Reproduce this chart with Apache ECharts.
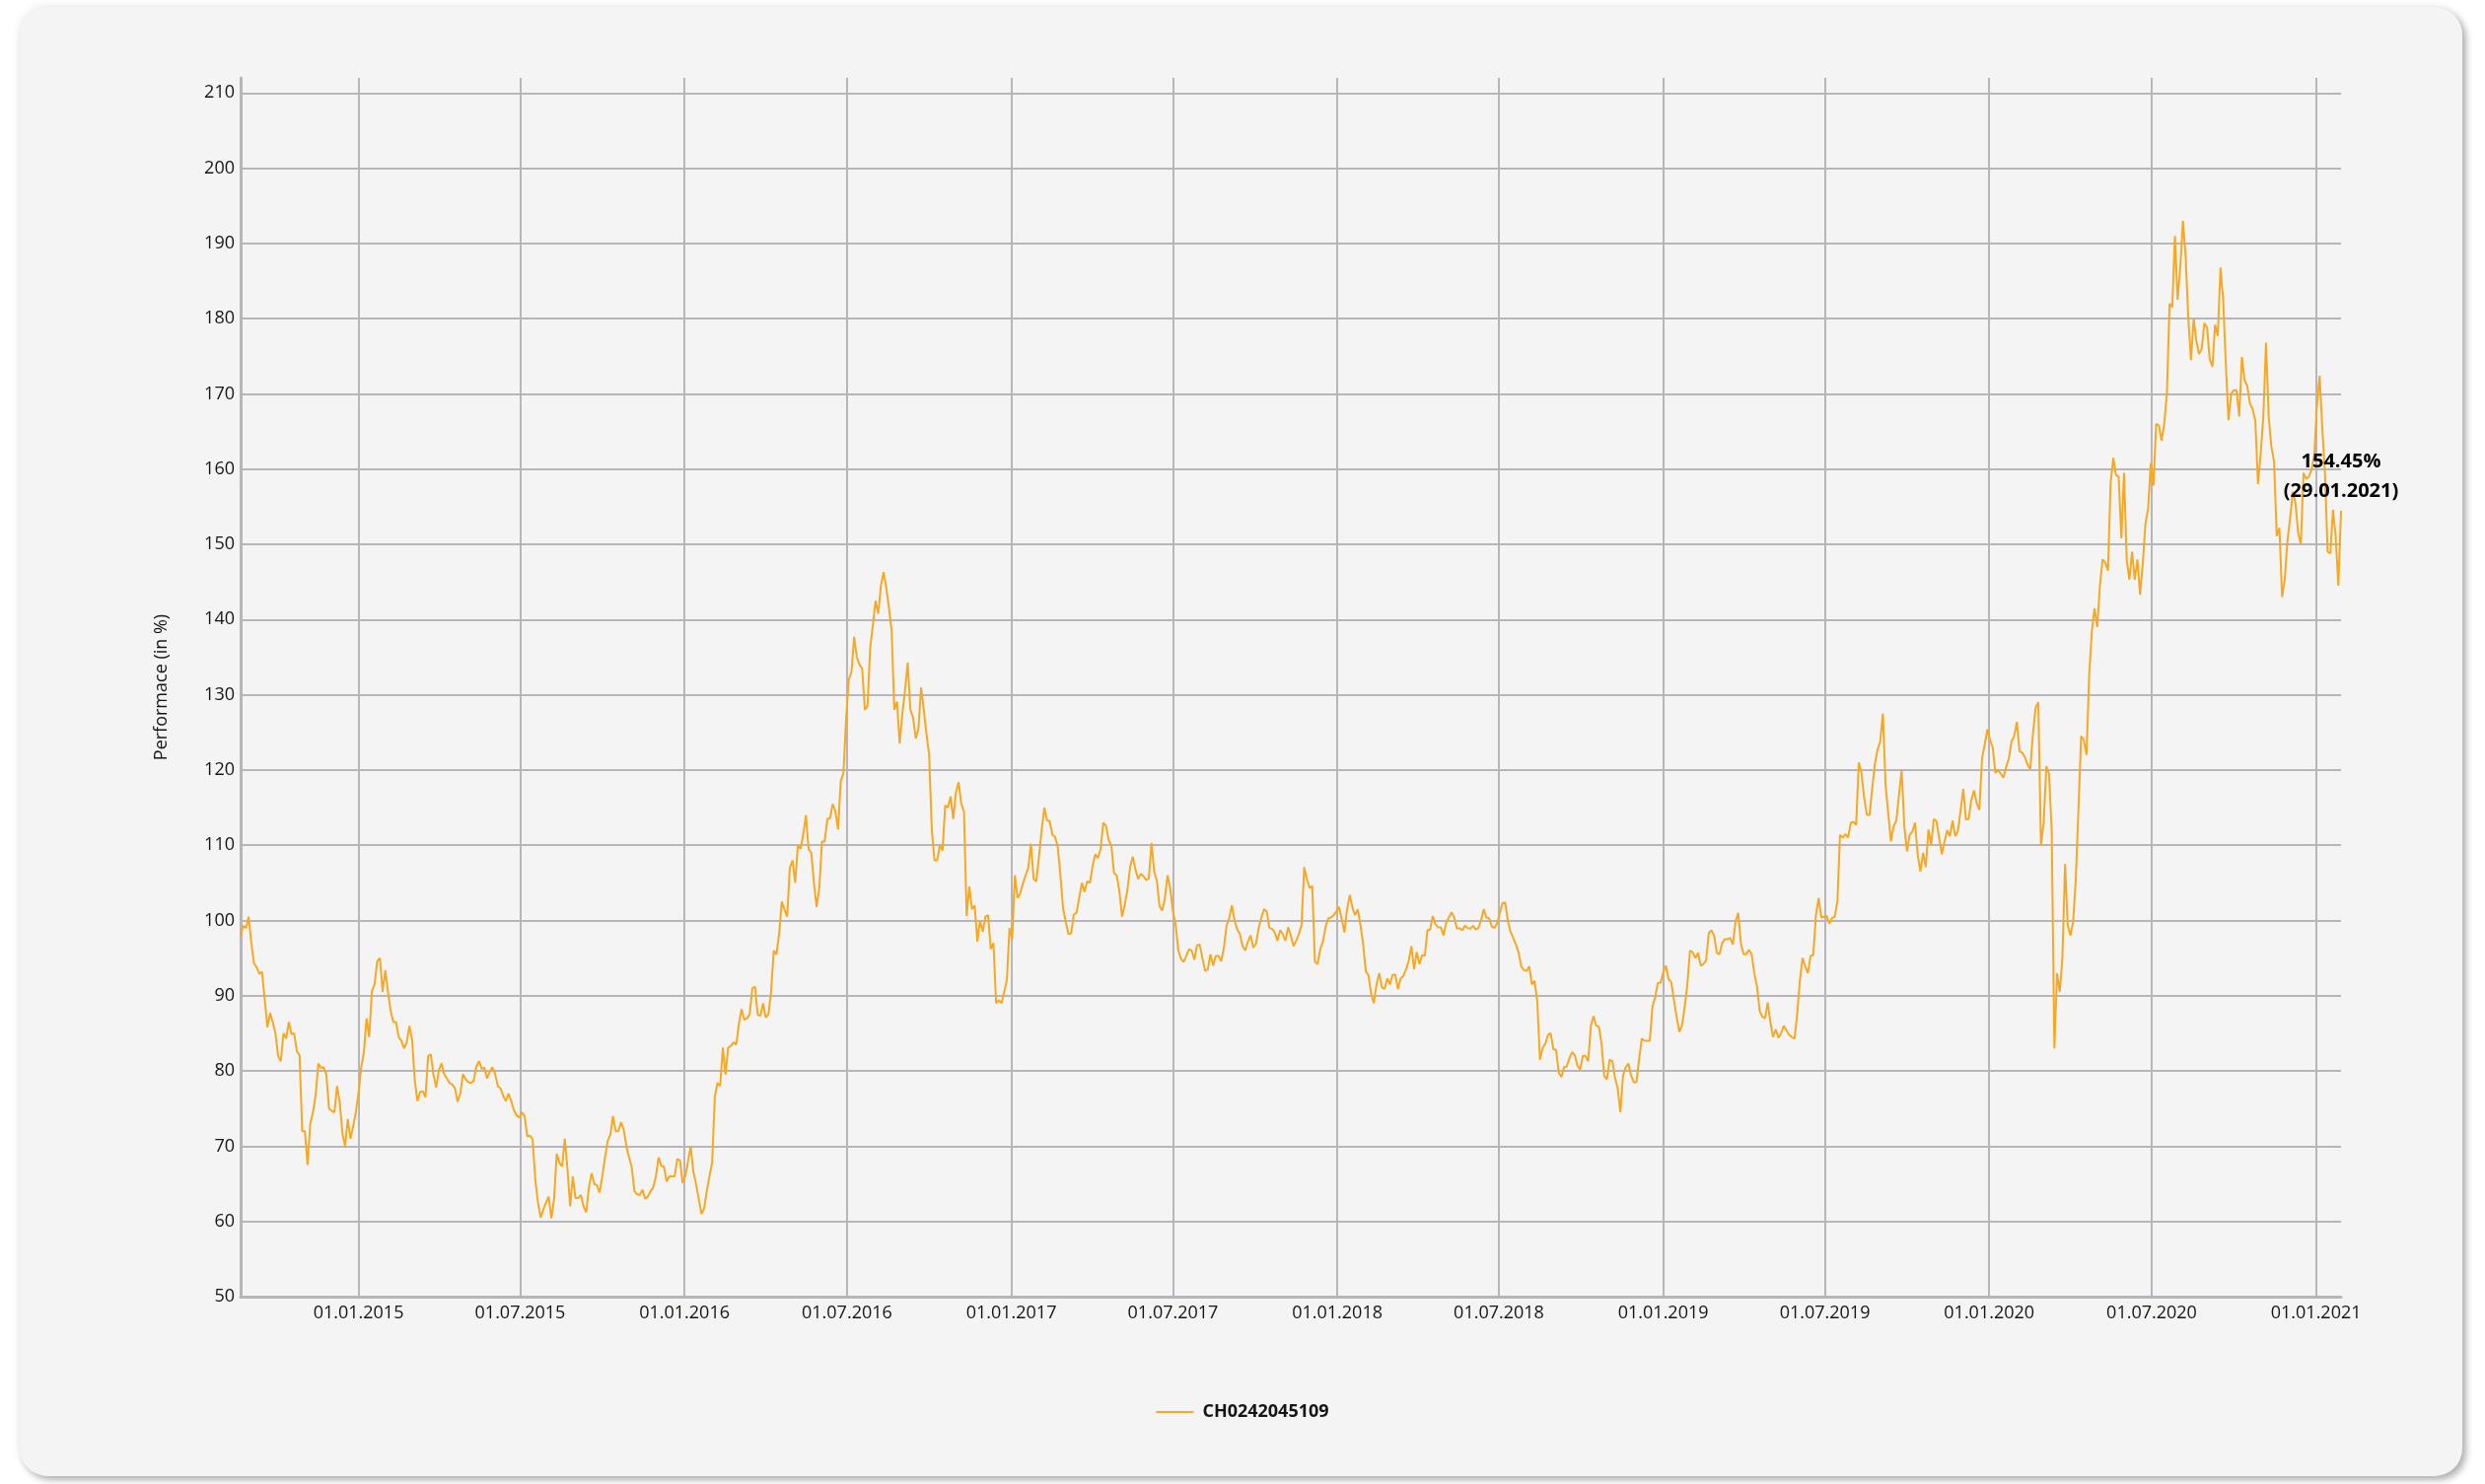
<!DOCTYPE html>
<html>
<head>
<meta charset="utf-8">
<script src="https://cdn.jsdelivr.net/npm/echarts@6/dist/echarts.min.js"></script>
<style>
html,body{margin:0;padding:0;background:#ffffff;width:2520px;height:1505px;overflow:hidden;}
#card{position:absolute;left:20px;top:7px;width:2477px;height:1490px;background:#f4f4f4;border-radius:28px;
  box-shadow:4px 4px 7px rgba(0,0,0,0.30),-2px -2px 10px rgba(0,0,0,0.06);}
#chart{position:absolute;left:0;top:0;width:2520px;height:1505px;}
</style>
</head>
<body>
<div id="card"></div>
<div id="chart"></div>
<script>
// ---------- data ----------
const seriesName = 'CH0242045109';
const yAxisTitle = 'Performace (in %)';
const firstDate = [2014, 8, 22];   // first value date (year, month, day)
const stepDays = 3;                // spacing of the values below, in calendar days
const xTickLabels = ['01.01.2015','01.07.2015','01.01.2016','01.07.2016','01.01.2017','01.07.2017',
  '01.01.2018','01.07.2018','01.01.2019','01.07.2019','01.01.2020','01.07.2020','01.01.2021'];
const yMin = 50, yMax = 210, yStep = 10;

// Aug 2014 - Jul 2015
const perf2014 = [98.0,99.3,99.0,100.5,97.0,94.3,93.8,92.9,93.2,89.5,
 85.8,87.7,86.5,85.0,82.0,81.3,85.0,84.3,86.5,84.9,
 85.0,82.6,82.1,72.0,72.0,67.5,73.0,74.5,76.8,81.0,
 80.4,80.5,79.5,75.0,74.7,74.5,78.0,75.8,71.7,70.0,
 73.6,71.0,72.6,74.5,77.0,80.5,82.4,87.0,84.5,90.6,
 91.5,94.6,95.0,90.5,93.4,90.5,88.0,86.5,86.5,84.5,
 84.0,83.0,83.8,86.0,84.2,78.8,76.0,77.2,77.3,76.5,
 82.0,82.2,79.5,77.8,80.1,81.0,79.6,79.0,78.4,78.2,
 77.7,75.9,77.0,79.6,78.9,78.5,78.4,78.7,80.6,81.3,
 80.3,80.4,79.0,79.9,80.5,79.6,78.0,77.7,76.7,76.0,
 77.0,76.0,74.8,74.1,73.8,74.5,74.0,71.3,71.4];
// Jul 2015 - Jul 2016
const perf2015 = [70.9,65.5,62.5,60.5,61.6,62.5,63.3,60.4,63.0,69.0,
 67.8,67.3,71.0,67.0,62.0,66.0,63.1,63.1,63.5,62.0,
 61.2,64.5,66.4,65.0,64.8,63.8,66.0,68.5,70.7,71.5,
 74.0,72.0,72.0,73.2,72.2,70.0,68.5,67.2,64.0,63.6,
 63.5,64.2,63.0,63.3,64.0,64.5,66.0,68.5,67.4,67.3,
 65.3,66.0,66.0,66.0,68.3,68.1,65.1,66.0,68.0,70.0,
 66.6,65.0,63.0,61.0,61.7,64.0,66.0,67.8,76.6,78.4,
 78.0,83.1,79.5,83.1,83.3,83.8,83.5,86.3,88.2,86.8,
 87.0,87.5,91.0,91.2,87.5,87.3,89.0,87.1,87.5,90.5,
 96.0,95.5,98.2,102.5,101.5,100.5,107.0,108.0,105.0,110.0,
 109.5,111.4,114.0,109.5,109.0,105.0,101.8,104.3,110.5,110.5,
 113.5,113.6,115.5,114.5,112.1,118.5,119.6];
// Jul 2016 - Jul 2017
const perf2016 = [126.8,132.0,133.0,137.7,135.0,134.0,133.5,128.0,128.5,136.3,
 139.3,142.5,140.8,144.5,146.3,144.2,141.5,138.5,128.0,129.1,
 123.5,127.5,130.6,134.3,128.0,127.0,124.2,125.5,131.0,128.0,
 124.8,122.0,112.0,108.0,108.0,110.0,109.3,115.3,115.0,116.5,
 113.5,117.0,118.4,115.5,114.5,100.6,104.5,101.5,102.0,97.2,
 100.0,98.5,100.5,100.7,96.2,97.0,89.0,89.4,89.0,90.5,
 92.0,99.0,97.5,106.0,103.0,103.6,104.9,106.0,107.0,110.2,
 105.5,105.2,108.5,112.0,115.0,113.3,113.2,111.4,111.1,109.8,
 106.0,101.6,99.8,98.2,98.3,100.8,101.0,103.0,105.0,103.8,
 105.2,105.0,107.2,108.8,108.3,109.5,113.0,112.6,110.7,110.0,
 106.3,106.0,103.9,100.5,102.1,104.0,107.1,108.5,106.8,105.5,
 106.2,105.9,105.4,105.6,110.3,106.5,105.3,101.9,101.3,103.0,
 106.0,104.2,101.2,99.5,96.0,94.9];
// Jul 2017 - Jul 2018
const perf2017 = [94.5,95.3,96.2,96.0,94.8,96.7,96.8,95.0,93.3,93.5,
 95.5,94.0,95.3,95.3,94.6,96.3,99.3,100.3,102.0,100.0,
 98.8,98.2,96.6,96.0,97.2,98.0,96.4,96.9,99.0,100.4,
 101.5,101.2,99.0,98.9,98.4,97.3,98.7,98.2,97.3,99.1,
 98.0,96.6,97.3,98.2,99.4,107.1,105.5,104.3,104.6,94.5,
 94.2,96.2,97.2,99.2,100.3,100.4,100.7,101.2,101.8,100.2,
 98.4,101.5,103.4,101.7,100.7,101.5,99.4,96.8,93.2,92.7,
 90.2,89.0,91.5,93.0,91.1,90.9,92.3,91.5,92.8,92.8,
 90.9,92.3,92.6,93.5,94.6,96.6,93.5,95.8,94.2,95.4,
 95.3,98.7,98.8,100.6,99.5,99.1,99.1,98.0,99.7,100.4,
 101.1,100.4,98.9,99.0,98.7,99.3,99.0,98.9,99.3,98.8,
 99.0,100.0,101.5,100.4,100.3,99.2,99.0,99.6,101.0];
// Jul 2018 - Jul 2019
const perf2018 = [102.3,102.4,100.0,98.5,97.7,96.8,95.8,93.9,93.4,93.3,
 93.9,91.5,92.0,89.2,81.5,83.1,83.6,84.8,85.0,82.9,
 82.8,79.8,79.2,80.5,80.6,81.7,82.5,82.1,80.7,80.2,
 82.0,82.0,81.3,86.0,87.3,86.0,85.9,83.5,79.3,78.9,
 81.5,81.3,79.1,77.7,74.5,79.4,80.5,81.0,79.4,78.5,
 78.5,81.6,84.3,84.0,84.0,84.0,88.6,89.8,91.7,91.7,
 93.1,94.0,92.2,91.8,89.4,87.2,85.2,86.0,88.5,91.5,
 96.0,95.8,95.0,95.7,94.0,94.2,94.7,98.3,98.7,98.0,
 95.7,95.5,97.0,97.5,97.5,97.7,96.8,99.9,101.0,97.0,
 95.5,95.5,96.1,95.5,93.0,91.2,88.0,87.2,87.0,89.1,
 86.5,84.5,85.5,84.4,85.0,86.0,85.4,84.8,84.5,84.3,
 87.5,92.0,95.0,93.9,93.0,95.3,95.4,100.7,103.0,100.4,
 100.5,100.6,99.6];
// Jul 2019 - Dec 2019
const perf2019 = [100.3,100.5,102.5,111.4,111.0,111.5,111.0,113.0,113.1,112.7,
 121.0,119.6,116.3,114.1,114.0,117.5,120.8,122.7,123.8,127.5,
 118.0,114.2,110.5,112.5,113.3,116.7,120.0,112.5,109.2,111.4,
 111.8,113.0,108.7,106.5,109.0,107.1,112.1,110.0,113.5,113.2,
 111.0,108.8,110.5,112.0,111.2,113.3,111.2,111.9,114.6,117.5,
 113.4,113.5,116.0,117.3,115.6,114.7,121.5,123.4];
// Dec 2019 - Jun 2020
const perf2020a = [125.4,124.0,123.0,119.6,120.0,119.5,119.0,120.4,121.5,123.8,
 124.5,126.4,122.5,122.3,121.7,120.7,120.1,124.8,128.3,129.0,
 110.0,113.0,120.5,119.5,112.0,83.0,93.0,90.5,95.0,107.5,
 99.3,98.0,99.8,105.5,114.9,124.5,124.0,122.0,132.7,138.5,
 141.5,139.0,144.5,148.0,147.6,146.5,158.2,161.5,159.2,159.0,
 150.8,159.5,148.0,145.3,149.0,145.3,148.0,143.3,147.5,152.7,
 154.8,160.8];
// Jul 2020 - Jan 2021
const perf2020b = [157.8,166.0,165.8,163.8,166.0,170.0,182.0,181.5,191.0,182.5,
 186.9,193.0,188.3,180.0,174.5,180.0,177.0,175.3,176.0,179.4,
 178.8,174.6,173.6,179.2,177.7,186.8,182.6,174.0,166.5,170.0,
 170.5,170.5,167.0,174.9,171.8,171.1,168.7,168.0,166.5,158.0,
 162.0,167.0,176.8,167.0,163.0,161.0,151.1,152.2,143.0,145.4,
 150.5,153.5,157.0,155.5,151.5,150.0,159.5,158.7,159.0,159.9,
 161.8,168.5,172.4,165.5,159.5,149.0,148.8,154.6,151.0,144.5,
 154.45];

// ---------- build ----------
const allValues = [].concat(perf2014, perf2015, perf2016, perf2017, perf2018, perf2019, perf2020a, perf2020b);
const data = allValues.map((v, i) => [new Date(firstDate[0], firstDate[1] - 1, firstDate[2] + i * stepDays).getTime(), v]);
const lastPoint = data[data.length - 1];

function parseDMY(s) { const p = s.split('.'); return new Date(+p[2], +p[1] - 1, +p[0]).getTime(); }
function fmtDate(t) {
  const d = new Date(t);
  return String(d.getDate()).padStart(2, '0') + '.' + String(d.getMonth() + 1).padStart(2, '0') + '.' + d.getFullYear();
}
const xTicks = xTickLabels.map(parseDMY);

const FONT = 'Open Sans';
const GRID_COLOR = '#b6b6ba';
const TEXT_COLOR = '#151515';

const chart = echarts.init(document.getElementById('chart'), null, { renderer: 'canvas' });
chart.setOption({
  backgroundColor: 'transparent',
  animation: false,
  textStyle: { fontFamily: FONT },
  grid: { left: 244, right: 146, top: 79, bottom: 190, containLabel: false },
  legend: {
    data: [seriesName],
    left: 'center',
    top: 1418,
    icon: 'rect',
    itemWidth: 38,
    itemHeight: 2,
    textStyle: { fontFamily: FONT, fontSize: 18, fontWeight: 'bold', color: TEXT_COLOR, padding: [0, 0, 0, 4] }
  },
  xAxis: {
    type: 'value',
    min: data[0][0],
    max: lastPoint[0],
    axisLine: { show: true, lineStyle: { color: GRID_COLOR, width: 3 } },
    axisTick: { show: false, customValues: xTicks },
    axisLabel: {
      customValues: xTicks,
      formatter: (v) => fmtDate(v),
      fontFamily: FONT, fontSize: 18, color: TEXT_COLOR, margin: 8, hideOverlap: false
    },
    splitLine: { show: true, lineStyle: { color: GRID_COLOR, width: 2 } }
  },
  yAxis: {
    type: 'value',
    min: yMin,
    max: yMax + 2,
    interval: yStep,
    name: yAxisTitle,
    nameLocation: 'middle',
    nameGap: 71,
    nameTextStyle: { fontFamily: FONT, fontSize: 18, color: TEXT_COLOR },
    axisLine: { show: true, lineStyle: { color: GRID_COLOR, width: 3 } },
    axisTick: { show: false },
    axisLabel: { fontFamily: FONT, fontSize: 18, color: TEXT_COLOR, margin: 6, showMaxLabel: false },
    splitLine: { show: true, showMaxLine: false, lineStyle: { color: GRID_COLOR, width: 2 } }
  },
  series: [{
    name: seriesName,
    type: 'line',
    data: data,
    showSymbol: false,
    symbol: 'none',
    lineStyle: { color: '#f7a823', width: 2 },
    itemStyle: { color: '#f7a823' },
    markPoint: {
      symbol: 'circle',
      symbolSize: 2,
      itemStyle: { color: 'rgba(0,0,0,0)' },
      label: {
        show: true,
        position: 'top',
        distance: 4,
        formatter: lastPoint[1].toFixed(2) + '%\n(' + fmtDate(lastPoint[0]) + ')',
        fontFamily: FONT,
        fontSize: 20,
        lineHeight: 30,
        fontWeight: 'bold',
        color: '#000000'
      },
      data: [{ coord: lastPoint }]
    }
  }]
});
</script>
</body>
</html>
